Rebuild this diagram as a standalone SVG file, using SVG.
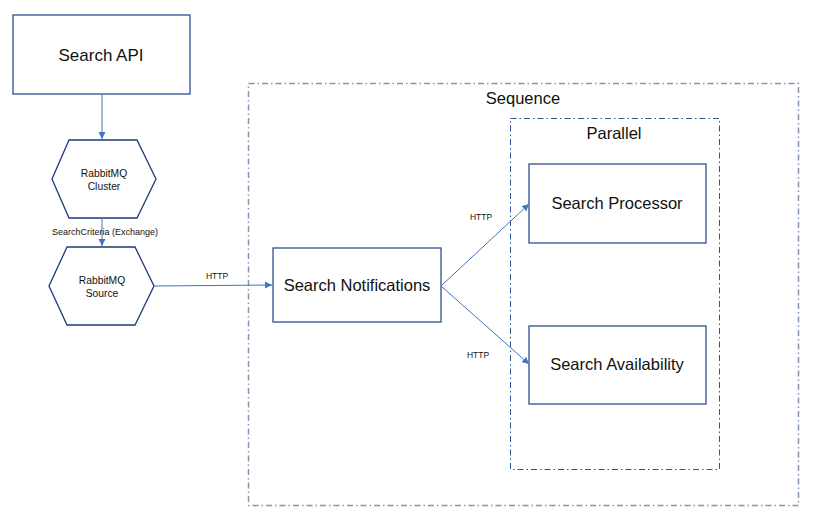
<svg xmlns="http://www.w3.org/2000/svg" width="828" height="529" viewBox="0 0 828 529">
<style>
.box{fill:#fff;stroke:#2F4F8F;stroke-width:1.3}
.hex{fill:#fff;stroke:#1F3A7A;stroke-width:1.3}
.t{font-family:"Liberation Sans",Arial,sans-serif;fill:#111;text-anchor:middle}
.big{font-size:16.5px}
.sm{font-size:9px}
.hx{font-size:10.3px}
.xs{font-size:8.5px}
.conn{fill:none;stroke:#4472C4;stroke-width:1}
</style>
<defs>
<marker id="arr" markerWidth="8" markerHeight="8" refX="7" refY="4" orient="auto" markerUnits="userSpaceOnUse">
<path d="M0,0.5 L7,4 L0,7.5 Z" fill="#4472C4"/>
</marker>
</defs>
<rect width="828" height="529" fill="#fff"/>
<g id="sequence">
<rect x="248.5" y="83.5" width="550" height="422" fill="none" stroke="#8497B0" stroke-width="1.5" stroke-dasharray="6,3,1.5,3"/>
<text class="t big" x="523" y="104">Sequence</text>
</g>
<g id="parallel">
<rect x="510.5" y="118.5" width="209" height="351" fill="none" stroke="#2F5597" stroke-width="1" stroke-dasharray="6,3,1.5,3"/>
<text class="t big" x="614" y="139">Parallel</text>
</g>
<g id="search-api">
<rect class="box" x="13" y="15" width="177" height="79"/>
<text class="t" style="font-size:17px" x="101" y="61">Search API</text>
</g>
<g id="rabbitmq-cluster">
<polygon class="hex" points="52,179 69,140 137,140 156,179 137,218 69,218"/>
<text class="t hx" x="104" y="177">RabbitMQ</text>
<text class="t hx" x="104" y="190">Cluster</text>
</g>
<g id="rabbitmq-source">
<polygon class="hex" points="49,286 67,247 135,247 154,286 135,325 67,325"/>
<text class="t hx" x="102" y="284">RabbitMQ</text>
<text class="t hx" x="102" y="297">Source</text>
</g>
<g id="search-notifications">
<rect class="box" x="273" y="248" width="168" height="74"/>
<text class="t big" x="357" y="291">Search Notifications</text>
</g>
<g id="search-processor">
<rect class="box" x="529" y="164" width="177" height="79"/>
<text class="t big" x="617" y="209">Search Processor</text>
</g>
<g id="search-availability">
<rect class="box" x="529" y="326" width="177" height="78"/>
<text class="t big" x="617" y="370">Search Availability</text>
</g>
<g id="connectors">
<line class="conn" x1="102" y1="94" x2="102" y2="139" marker-end="url(#arr)"/>
<line class="conn" x1="102" y1="218" x2="102" y2="246" marker-end="url(#arr)"/>
<text class="t sm" x="105" y="235">SearchCriteria (Exchange)</text>
<line class="conn" x1="154" y1="286" x2="272" y2="285" marker-end="url(#arr)" stroke-width="1.3"/>
<text class="t xs" x="217" y="279">HTTP</text>
<line class="conn" x1="441" y1="286" x2="529" y2="204" marker-end="url(#arr)"/>
<text class="t xs" x="481" y="220">HTTP</text>
<line class="conn" x1="441" y1="286" x2="529" y2="364" marker-end="url(#arr)"/>
<text class="t xs" x="478" y="358">HTTP</text>
</g>
</svg>
